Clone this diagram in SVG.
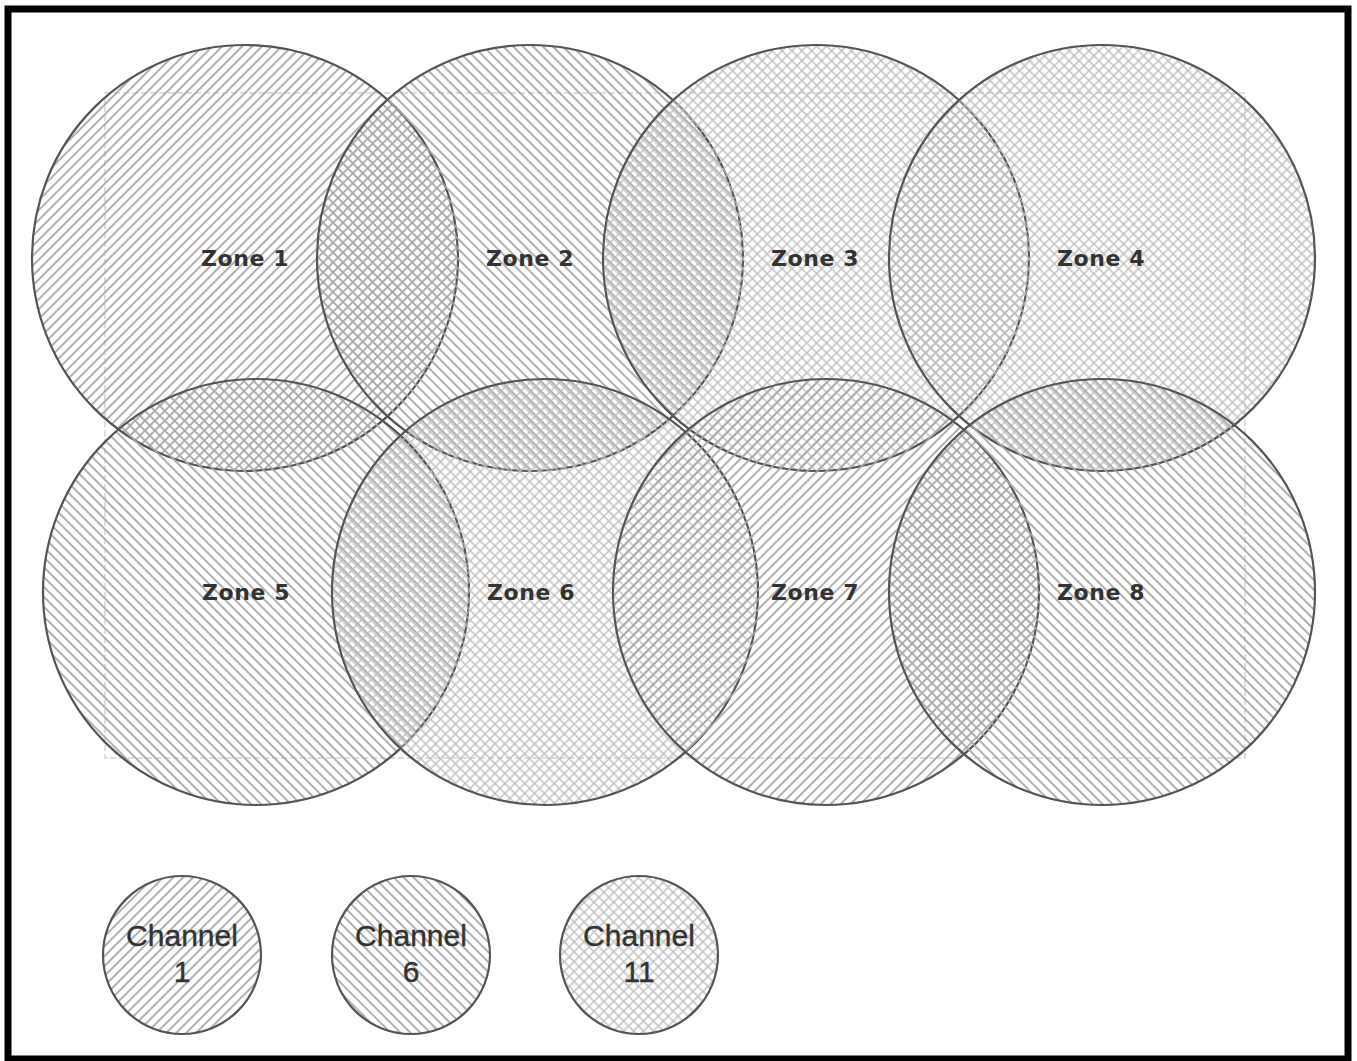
<svg xmlns="http://www.w3.org/2000/svg" width="1357" height="1061" viewBox="0 0 1357 1061">
<defs>
<pattern id="ch1" width="7" height="7" patternUnits="userSpaceOnUse" patternTransform="rotate(45)">
<line x1="1" y1="-1" x2="1" y2="8" stroke="#a8a8a8" stroke-width="1.8"/>
</pattern>
<pattern id="ch6" width="7" height="7" patternUnits="userSpaceOnUse" patternTransform="rotate(-45)">
<line x1="1" y1="-1" x2="1" y2="8" stroke="#a8a8a8" stroke-width="1.8"/>
</pattern>
<pattern id="ch11" width="7" height="7" patternUnits="userSpaceOnUse" patternTransform="rotate(45)">
<line x1="1" y1="-1" x2="1" y2="8" stroke="#bdbdbd" stroke-width="1.4"/>
<line x1="-1" y1="1" x2="8" y2="1" stroke="#bdbdbd" stroke-width="1.4"/>
</pattern>
<style>
.zone { stroke: #555; stroke-width: 2.2; }
.zl { font-family: "DejaVu Sans", sans-serif; font-weight: bold; font-size: 22px; fill: #333; text-anchor: middle; letter-spacing: 0.6px; }
.cl { font-family: "Liberation Sans", Arial, sans-serif; font-size: 30px; fill: #333; text-anchor: middle; stroke: #333; stroke-width: 0.4; }
.f1 { fill: url(#ch1); }
.f6 { fill: url(#ch6); }
.f11 { fill: url(#ch11); }
</style>
</defs>
<rect x="0" y="0" width="1357" height="1061" fill="#fff"/>
<rect x="8" y="9" width="1340" height="1050" fill="none" stroke="#000" stroke-width="7"/>
<rect x="105" y="93" width="1140" height="665" fill="none" stroke="#d4d4d4" stroke-width="1.5" stroke-dasharray="6 3"/>
<g id="connectors"></g>
<g id="zone1"><circle class="zone f1" cx="245" cy="258" r="213"/><text class="zl" x="245" y="266">Zone 1</text></g>
<g id="zone2"><circle class="zone f6" cx="530" cy="258" r="213"/><text class="zl" x="530" y="266">Zone 2</text></g>
<g id="zone3"><circle class="zone f11" cx="816" cy="258" r="213"/><text class="zl" x="815" y="266">Zone 3</text></g>
<g id="zone4"><circle class="zone f11" cx="1102" cy="258" r="213"/><text class="zl" x="1101" y="266">Zone 4</text></g>
<g id="zone5"><circle class="zone f6" cx="256" cy="592" r="213"/><text class="zl" x="246" y="600">Zone 5</text></g>
<g id="zone6"><circle class="zone f11" cx="545" cy="592" r="213"/><text class="zl" x="531" y="600">Zone 6</text></g>
<g id="zone7"><circle class="zone f1" cx="826" cy="592" r="213"/><text class="zl" x="815" y="600">Zone 7</text></g>
<g id="zone8"><circle class="zone f6" cx="1102" cy="592" r="213"/><text class="zl" x="1101" y="600">Zone 8</text></g>
<g id="legend-ch1"><circle class="zone f1" cx="182" cy="955" r="79"/><text class="cl" x="182" y="946">Channel</text><text class="cl" x="182" y="982">1</text></g>
<g id="legend-ch6"><circle class="zone f6" cx="411" cy="955" r="79"/><text class="cl" x="411" y="946">Channel</text><text class="cl" x="411" y="982">6</text></g>
<g id="legend-ch11"><circle class="zone f11" cx="639" cy="955" r="79"/><text class="cl" x="639" y="946">Channel</text><text class="cl" x="639" y="982">11</text></g>
</svg>
